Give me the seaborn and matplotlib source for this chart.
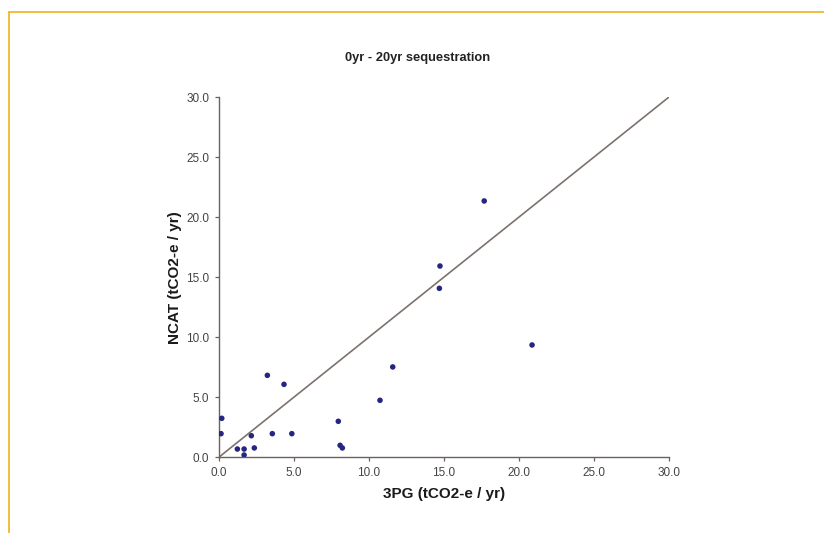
import matplotlib
matplotlib.use("Agg")
import matplotlib.pyplot as plt
import seaborn as sns
import pandas as pd
from matplotlib.lines import Line2D

sns.set_theme(style="white")
plt.rcParams['font.family'] = ['Liberation Sans', 'DejaVu Sans']

title = "0yr - 20yr sequestration"
xlabel = "3PG (tCO2-e / yr)"
ylabel = "NCAT (tCO2-e / yr)"

pg3 = [0.15, 0.2, 1.24, 1.69, 1.69, 2.17, 2.37, 3.24, 3.57, 4.35, 4.87,
       7.97, 8.09, 8.24, 10.75, 11.6, 14.71, 14.75, 17.7, 20.89]
ncat = [1.97, 3.25, 0.69, 0.69, 0.19, 1.8, 0.78, 6.83, 1.97, 6.08, 1.97,
        3.0, 1.0, 0.78, 4.75, 7.53, 14.08, 15.94, 21.36, 9.36]
ticks = [0.0, 5.0, 10.0, 15.0, 20.0, 25.0, 30.0]
line_x = [0.0, 30.0]
line_y = [0.0, 30.0]

df = pd.DataFrame({"x": pg3, "y": ncat})

fig = plt.figure(figsize=(8.24, 5.33), dpi=100)
ax = fig.add_axes([0.2655, 0.142, 0.546, 0.6755])

sns.lineplot(x=line_x, y=line_y, ax=ax, color="#7d726d", linewidth=1.2)
sns.scatterplot(data=df, x="x", y="y", ax=ax, color="#262680", s=16,
                edgecolor="none", zorder=3)

ax.set_xlim(0, 30)
ax.set_ylim(0, 30)
ax.set_xticks(ticks)
ax.set_yticks(ticks)
ax.set_xticklabels([f"{t:.1f}" for t in ticks])
ax.set_yticklabels([f"{t:.1f}" for t in ticks])
ax.tick_params(axis="both", labelsize=8.5, labelcolor="#444444", colors="#6b625e",
               length=3, width=0.9, direction="out", bottom=True, left=True, pad=4)
for s in ["top", "right"]:
    ax.spines[s].set_visible(False)
for s in ["left", "bottom"]:
    ax.spines[s].set_color("#6b625e")
    ax.spines[s].set_linewidth(1.0)
ax.set_xlabel(xlabel, fontsize=11, fontweight="bold", color="#1a1a1a", labelpad=6)
ax.set_ylabel(ylabel, fontsize=11, fontweight="bold", color="#1a1a1a", labelpad=3)
fig.text(0.507, 0.891, title, ha="center", va="center", fontsize=9.3,
         fontweight="bold", color="#222222")

# orange frame (top and left)
fig.add_artist(Line2D([8.5/824, 1.0], [1 - 11.5/533, 1 - 11.5/533],
                      transform=fig.transFigure, color="#f2b731", linewidth=1.3))
fig.add_artist(Line2D([8.5/824, 8.5/824], [0.0, 1 - 11.5/533],
                      transform=fig.transFigure, color="#f2b731", linewidth=1.3))

fig.savefig("out.png", dpi=100)
